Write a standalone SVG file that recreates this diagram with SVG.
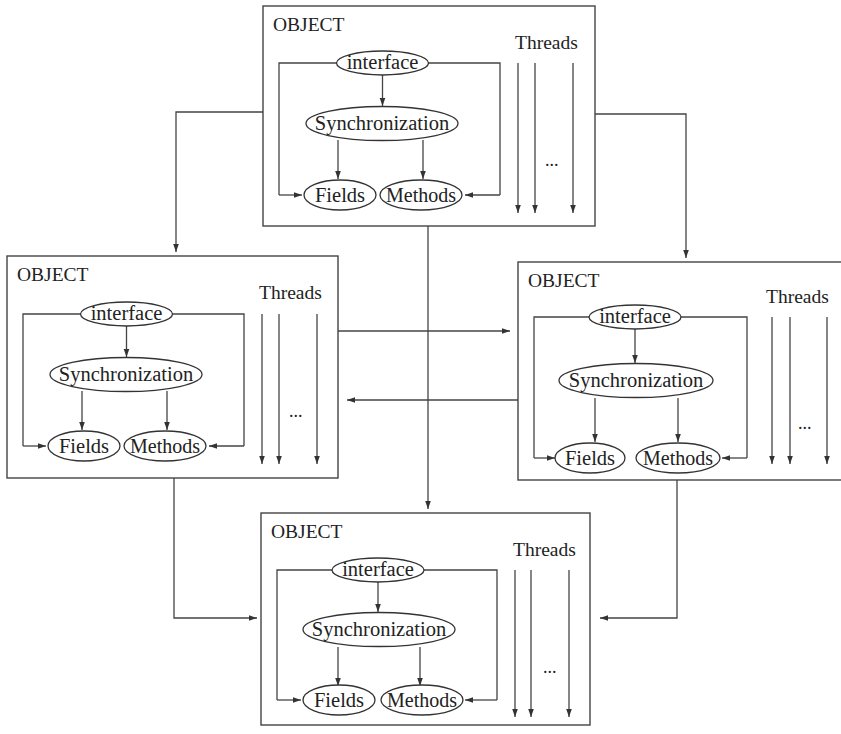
<svg xmlns="http://www.w3.org/2000/svg" width="841" height="734" viewBox="0 0 841 734">
<defs>
<marker id="ah" viewBox="0 0 10 10" refX="10" refY="5" markerWidth="8" markerHeight="8" markerUnits="userSpaceOnUse" orient="auto"><path d="M0,1.5 L10,5 L0,8.5 z" fill="#333"/></marker>
</defs>
<style>
.box{fill:none;stroke:#444;stroke-width:1.4}
.ell{fill:#fff;stroke:#333;stroke-width:1.3}
.ln{fill:none;stroke:#444;stroke-width:1.3}
.ar{fill:none;stroke:#444;stroke-width:1.3;marker-end:url(#ah)}
.t{font-family:"Liberation Serif","DejaVu Serif",serif;fill:#222}
.h{font-size:19.5px}
.e{font-size:20.5px;text-anchor:middle}
.m{font-size:20px;text-anchor:middle}
</style>
<rect width="841" height="734" fill="#fff"/>

<g id="connectors">
<path class="ar" d="M263,112 H176 V252"/>
<path class="ar" d="M595,114 H686 V258"/>
<path class="ar" d="M338,331 H510"/>
<path class="ar" d="M518,400 H347"/>
<path class="ar" d="M428,226 V509"/>
<path class="ar" d="M174,478 V618 H257"/>
<path class="ar" d="M677,480 V618 H600"/>
</g>

<g id="object-top" transform="translate(263,6)">
<rect class="box" x="0" y="0" width="332" height="220"/>
<text class="t h" x="10" y="25">OBJECT</text>
<text class="t h" x="252" y="43">Threads</text>
<path class="ln" d="M74,57 H16 V189"/>
<path class="ar" d="M16,189 H39"/>
<path class="ln" d="M165,57 H237 V189"/>
<path class="ar" d="M237,189 H202"/>
<path class="ar" d="M119.5,69 V100"/>
<path class="ar" d="M75,134 V173"/>
<path class="ar" d="M160,134 V173"/>
<path class="ar" d="M255,57 V207"/>
<path class="ar" d="M272,57 V207"/>
<path class="ar" d="M310,57 V207"/>
<text class="t" x="282" y="160" font-size="18">...</text>
<ellipse class="ell" cx="119.5" cy="57" rx="46" ry="12"/>
<text class="t e" x="119.5" y="63">interface</text>
<ellipse class="ell" cx="119" cy="117.5" rx="76" ry="17"/>
<text class="t e" x="119" y="124">Synchronization</text>
<ellipse class="ell" cx="77" cy="189" rx="36" ry="15"/>
<text class="t e" x="77" y="195.5">Fields</text>
<ellipse class="ell" cx="158" cy="189" rx="41" ry="15"/>
<text class="t m" x="158" y="195.5">Methods</text>
</g>

<g id="object-left" transform="translate(7,256)">
<rect class="box" x="0" y="0" width="331" height="222"/>
<text class="t h" x="10" y="25">OBJECT</text>
<text class="t h" x="252" y="43">Threads</text>
<path class="ln" d="M74,58 H16 V190"/>
<path class="ar" d="M16,190 H39"/>
<path class="ln" d="M165,58 H237 V190"/>
<path class="ar" d="M237,190 H202"/>
<path class="ar" d="M119.5,70 V101"/>
<path class="ar" d="M75,135 V174"/>
<path class="ar" d="M160,135 V174"/>
<path class="ar" d="M255,58 V208"/>
<path class="ar" d="M272,58 V208"/>
<path class="ar" d="M310,58 V208"/>
<text class="t" x="282" y="161" font-size="18">...</text>
<ellipse class="ell" cx="119.5" cy="58" rx="46" ry="12"/>
<text class="t e" x="119.5" y="64">interface</text>
<ellipse class="ell" cx="119" cy="118.5" rx="76" ry="17"/>
<text class="t e" x="119" y="125">Synchronization</text>
<ellipse class="ell" cx="77" cy="190" rx="36" ry="15"/>
<text class="t e" x="77" y="196.5">Fields</text>
<ellipse class="ell" cx="158" cy="190" rx="41" ry="15"/>
<text class="t m" x="158" y="196.5">Methods</text>
</g>

<g id="object-right" transform="translate(518,262)">
<rect class="box" x="0" y="0" width="332" height="218"/>
<text class="t h" x="10" y="25">OBJECT</text>
<text class="t h" x="248" y="41">Threads</text>
<path class="ln" d="M71,55 H16 V196"/>
<path class="ar" d="M16,196 H37"/>
<path class="ln" d="M163,55 H229 V196"/>
<path class="ar" d="M229,196 H204"/>
<path class="ar" d="M117,67 V101"/>
<path class="ar" d="M77,136 V180"/>
<path class="ar" d="M160,136 V180"/>
<path class="ar" d="M254,55 V202"/>
<path class="ar" d="M272,55 V202"/>
<path class="ar" d="M309,55 V202"/>
<text class="t" x="280" y="167" font-size="18">...</text>
<ellipse class="ell" cx="117" cy="55" rx="46" ry="12"/>
<text class="t e" x="117" y="61">interface</text>
<ellipse class="ell" cx="118" cy="118.5" rx="77" ry="17"/>
<text class="t e" x="118" y="125">Synchronization</text>
<ellipse class="ell" cx="72" cy="196" rx="35" ry="15"/>
<text class="t e" x="72" y="202.5">Fields</text>
<ellipse class="ell" cx="160" cy="196" rx="42" ry="15"/>
<text class="t m" x="160" y="202.5">Methods</text>
</g>

<g id="object-bottom" transform="translate(261,513)">
<rect class="box" x="0" y="0" width="329" height="212"/>
<text class="t h" x="10" y="25">OBJECT</text>
<text class="t h" x="252" y="43">Threads</text>
<path class="ln" d="M71,57 H16 V187"/>
<path class="ar" d="M16,187 H40"/>
<path class="ln" d="M163,57 H236 V187"/>
<path class="ar" d="M236,187 H204"/>
<path class="ar" d="M117,69 V99"/>
<path class="ar" d="M77,134 V173"/>
<path class="ar" d="M159,134 V173"/>
<path class="ar" d="M254,57 V204"/>
<path class="ar" d="M270,57 V204"/>
<path class="ar" d="M308,57 V204"/>
<text class="t" x="282" y="160" font-size="18">...</text>
<ellipse class="ell" cx="117" cy="57" rx="46" ry="12"/>
<text class="t e" x="117" y="63">interface</text>
<ellipse class="ell" cx="118" cy="116.5" rx="76" ry="17"/>
<text class="t e" x="118" y="123">Synchronization</text>
<ellipse class="ell" cx="78" cy="187" rx="36" ry="15"/>
<text class="t e" x="78" y="193.5">Fields</text>
<ellipse class="ell" cx="161" cy="187" rx="41" ry="15"/>
<text class="t m" x="161" y="193.5">Methods</text>
</g>
</svg>
